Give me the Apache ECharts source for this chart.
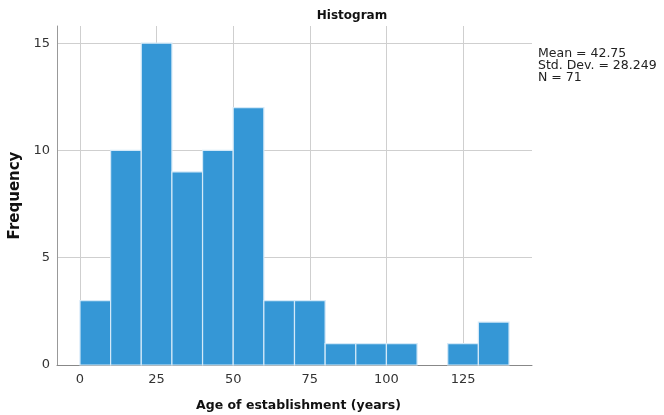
<!DOCTYPE html>
<html>
<head>
<meta charset="utf-8">
<script src="https://cdn.jsdelivr.net/npm/echarts@6/dist/echarts.min.js"></script>
<style>
  html, body { margin: 0; padding: 0; background: #fff; }
  #chart { width: 664px; height: 415px; }
</style>
</head>
<body>
<div id="chart"></div>
<script>
// Histogram bins (years) and frequencies
const binStart = [0, 10, 20, 30, 40, 50, 60, 70, 80, 90, 100, 110, 120, 130];
const binEnd   = [10, 20, 30, 40, 50, 60, 70, 80, 90, 100, 110, 120, 130, 140];
const counts   = [3, 10, 15, 9, 10, 12, 3, 3, 1, 1, 1, 0, 1, 2];
const xTicks = [0, 25, 50, 75, 100, 125];
const yTicks = [0, 5, 10, 15];
const statsLines = ['Mean = 42.75', 'Std. Dev. = 28.249', 'N = 71'];

const FONT = '"DejaVu Sans", sans-serif';
const data = binStart.map((s, i) => [s, binEnd[i], counts[i]]);

const chart = echarts.init(document.getElementById('chart'), null, { renderer: 'canvas' });
chart.setOption({
  animation: false,
  backgroundColor: '#fff',
  graphic: [{
    type: 'text', x: 352, y: 16,
    style: { text: 'Histogram', font: 'bold 12px ' + FONT, fill: '#111', align: 'center', verticalAlign: 'middle' }
  }, {
    type: 'text', left: 538, top: 47,
    style: { text: statsLines.join('\n'), font: '12.5px ' + FONT, fill: '#222', lineHeight: 12 }
  }],
  grid: { left: 57, right: 132, top: 26, bottom: 50, outerBoundsMode: 'none' },
  xAxis: {
    type: 'value', min: -7.5, max: 147.5,
    name: 'Age of establishment (years)', nameLocation: 'middle', nameGap: 34,
    nameTextStyle: { fontFamily: FONT, fontSize: 12.5, fontWeight: 'bold', color: '#111', padding: [0, 0, 0, 8] },
    axisLine: { show: true, onZero: false, lineStyle: { color: '#888', width: 1 } },
    axisTick: { show: false, customValues: xTicks },
    axisLabel: { customValues: xTicks, fontFamily: FONT, fontSize: 13, color: '#333', margin: 8 },
    splitLine: { show: true, lineStyle: { color: '#cfcfcf', width: 1 } }
  },
  yAxis: {
    type: 'value', min: 0, max: 15.8,
    name: 'Frequency', nameLocation: 'middle', nameGap: 27,
    nameTextStyle: { fontFamily: FONT, fontSize: 15, fontWeight: 'bold', color: '#111', padding: [0, 0, 6, 0] },
    axisLine: { show: true, onZero: false, lineStyle: { color: '#999', width: 1 } },
    axisTick: { show: false, customValues: yTicks },
    axisLabel: { customValues: yTicks, fontFamily: FONT, fontSize: 13, color: '#333', margin: 7 },
    splitLine: { show: true, lineStyle: { color: '#cfcfcf', width: 1 } }
  },
  series: [{
    type: 'custom',
    data: data,
    encode: { x: [0, 1], y: 2 },
    renderItem: function (params, api) {
      const c = api.value(2);
      if (!c) return null;
      const p0 = api.coord([api.value(0), c]);
      const p1 = api.coord([api.value(1), 0]);
      return {
        type: 'rect',
        shape: { x: p0[0], y: p0[1], width: p1[0] - p0[0], height: p1[1] - p0[1] },
        style: { fill: '#3597d6', stroke: '#d4e9f8', lineWidth: 1.2 }
      };
    }
  }]
});
</script>
</body>
</html>
